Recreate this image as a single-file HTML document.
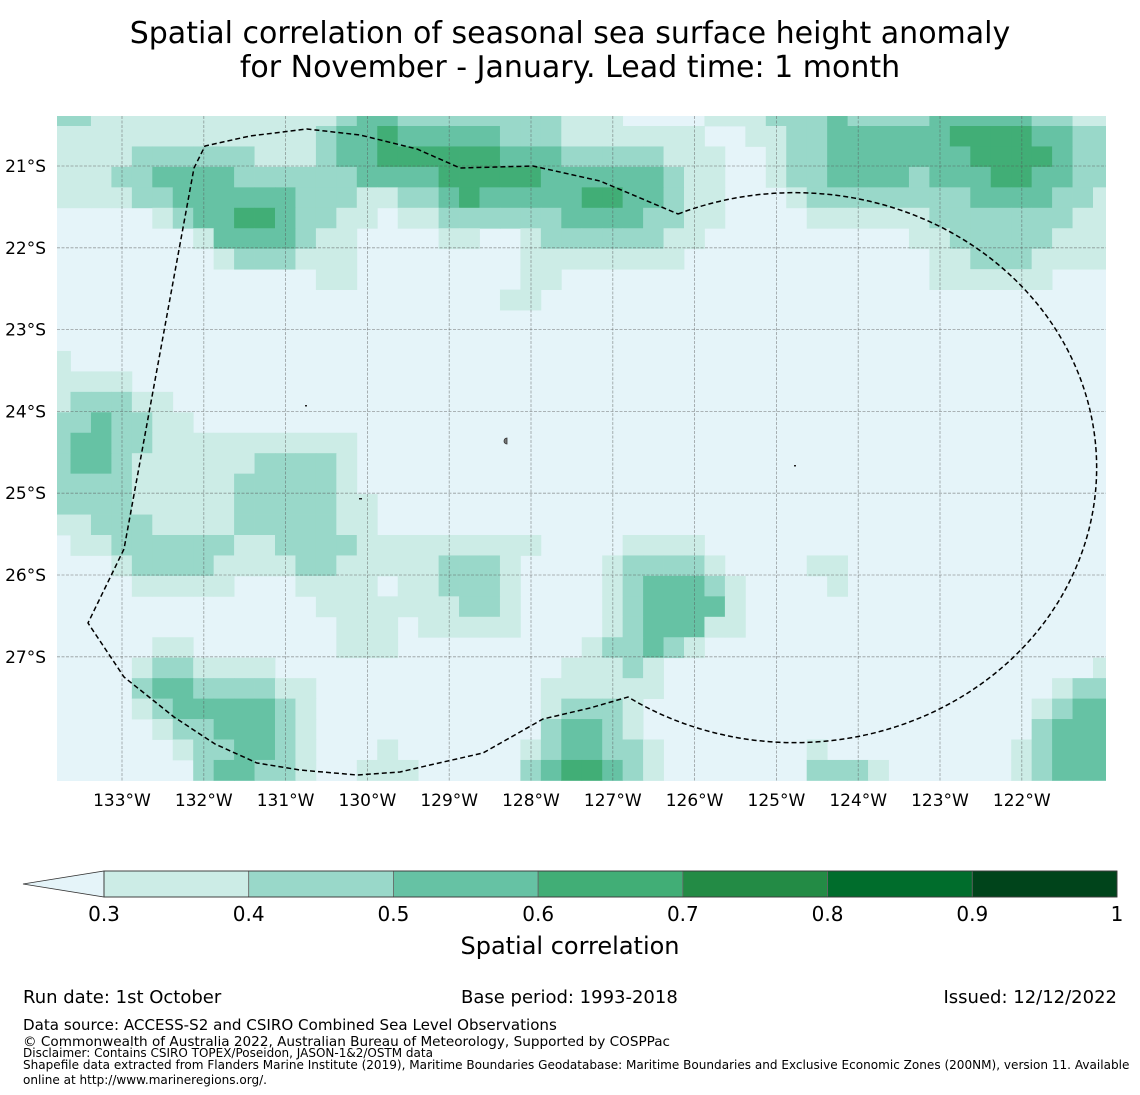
<!DOCTYPE html>
<html><head><meta charset="utf-8"><title>Spatial correlation SSH anomaly</title>
<style>
html,body{margin:0;padding:0;background:#fff;}
svg{display:block;font-family:"DejaVu Sans","Liberation Sans",sans-serif;}
</style></head>
<body>
<svg id="chart" width="1140" height="1095" viewBox="0 0 1140 1095" xmlns="http://www.w3.org/2000/svg">
  <defs><clipPath id="mapclip"><rect x="57" y="116" width="1049" height="665"/></clipPath></defs>
  <text x="570" y="43" font-size="30" text-anchor="middle">Spatial correlation of seasonal sea surface height anomaly</text>
  <text x="570" y="77" font-size="30" text-anchor="middle">for November - January. Lead time: 1 month</text>
  <rect x="57" y="116" width="1049" height="665" fill="#e5f4f9"/>
  <g id="cells" clip-path="url(#mapclip)"></g>
  <g id="grid" clip-path="url(#mapclip)"></g>
  <g id="islands">
    <path d="M507,438 A3,3 0 0 0 507,444 Z" fill="#777" stroke="#333" stroke-width="0.8"/>
    <rect x="305" y="405" width="2" height="1.5" fill="#222"/>
    <rect x="359" y="498" width="3" height="1.5" fill="#222"/>
    <rect x="794" y="465" width="2" height="1.5" fill="#222"/>
  </g>
  <path id="eez" fill="none" stroke="#000" stroke-width="1.5" stroke-dasharray="5,3"
    d="M678,214 A302,275 0 1 1 628,697 L590,708 L543,719 L483,753 L430,765 L400,772 L357,775 L300,770 L257,763 L215,744 L174,717 L124,677 L88,623 L124,549 L194,168 L205,146 L250,136 L307,129 L360,135 L417,149 L460,168 L533,166 L600,181 L678,214"
   />
  <g id="axes"></g>
  <g id="colorbar"></g>
  <text x="570" y="954" font-size="24" text-anchor="middle">Spatial correlation</text>
  <text x="23" y="1003" font-size="18">Run date: 1st October</text>
  <text x="461" y="1003" font-size="18">Base period: 1993-2018</text>
  <text x="1117" y="1003" font-size="18" text-anchor="end">Issued: 12/12/2022</text>
  <text x="23" y="1030" font-size="15.1">Data source: ACCESS-S2 and CSIRO Combined Sea Level Observations</text>
  <text x="23" y="1046" font-size="13.6">© Commonwealth of Australia 2022, Australian Bureau of Meteorology, Supported by COSPPac</text>
  <text x="23" y="1057" font-size="12">Disclaimer: Contains CSIRO TOPEX/Poseidon, JASON-1&amp;2/OSTM data</text>
  <text x="23" y="1069" font-size="12.05">Shapefile data extracted from Flanders Marine Institute (2019), Maritime Boundaries Geodatabase: Maritime Boundaries and Exclusive Economic Zones (200NM), version 11. Available</text>
  <text x="23" y="1084" font-size="12.05">online at http://www.marineregions.org/.</text>
</svg>
<script>
// Correlation class codes per row (north to south), per column (west to east); each digit = class bin
const rowCodes = [
"22 111111111111 2 33 22222222 111 0000 111 222 3 2222 33333 22 11",
"1111111111111 2 33 4 33333 222 1111111 00 11 22 333333 4444 33 22",
"1111 222222 111 2 33 4 44444 333 22222 111 00 1 22 3333333 4444 3 22",
"111 22 3333 222222 3333 44444 333333 2 11 00 1 22 3333 2 333 44 33 22",
"1111 22 333333 222 11 22 3 4 33333 44 33 2 11 000 1 22222222 3333 22 1",
"00000 1 2 33 44 3 22 11 0 11 222222 3333 22 11 0000 111111 2222222 11",
"0000000 1 3333 2 11 0000 11 00 1 222222 11 0000000000 11 22222 111",
"00000000 1 222 111 00000000 11111111 000000000000 11 222 1111",
"0000000000000 11 00000000 11 000000000000000000 111111 000",
"0000000000000000000000 11",
"0",
"0",
"1",
"1111",
"1 222 11",
"22 3 22 11",
"2 33 22 1111111111",
"2 33 2 111111 2222 1",
"2222 11111 22222 1",
"2222 11111 22222 11",
"11 222 1111 22222 11",
"0 11 222222 11 2222 111 111111 0000 1111",
"000 1 2222 1111 22 1111 1 222 1 0000 1 2222 1 0000 11",
"0000 11111 000 1111 0 1 1 222 1 0000 1 2 333 2 1 0000 1",
"0000000000000 11111 11 22 1 0000 1 2 3333 1",
"00000000000000 111 0 11111 0000 1 2 333 11",
"00000 11 0000000 111 0 00000000 1 22 3 2 1",
"0000 1 22 1111 0000000 0000000 111 2 1 000000000000000000000 1",
"0000 2 33 2222 11 00000 000000 111111 0000000000000000000 1 22",
"0000 1 2 33333 2 1 00000 000000 1 222 1 0000000000000000000 1 2 33",
"00000 1 22 333 2 1 00000 000000 2 33 2 1 0000000000000000000 2 333",
"000000 1 22 33 2 1 000 1 0 00000 1 2 33 22 1 0000000 1 000000000 1 2 333",
"0000000 2 33 22 1 00 111 00000 2 3 44 3 2 1 0000000 222 1 000000 1 2 333"
];
const classValues = [0.2, 0.35, 0.45, 0.55, 0.65, 0.75, 0.85, 0.95];
const cbBounds = [0.3, 0.4, 0.5, 0.6, 0.7, 0.8, 0.9, 1.0];
const cbColors = ["#ccece6","#99d8c9","#66c2a4","#41ae76","#238b45","#006d2c","#00441b"];
const lowColor = "#e5f4f9";
const lonTicks = [-133,-132,-131,-130,-129,-128,-127,-126,-125,-124,-123,-122];
const latTicks = [-21,-22,-23,-24,-25,-26,-27];
const cbTickLabels = ["0.3","0.4","0.5","0.6","0.7","0.8","0.9","1"];
const NCOLS = 52;
const corr = rowCodes.map(s => {
  const d = s.replace(/ /g, "");
  const out = [];
  for (let i = 0; i < NCOLS; i++) out.push(classValues[+(d[i] || "0")]);
  return out;
});

const NS = "http://www.w3.org/2000/svg";
const X0 = 57, X1 = 1106, Y0 = 116, Y1 = 781, DEG = 81.8;
const xScale = lon => 122 + (lon + 133) * DEG;
const yScale = lat => 166 + (-21 - lat) * DEG;
const cellLon0 = -133 - (122 - 70.5) / DEG - 0.25;
const cellLat0 = -21 + (166 - 126) / DEG + 0.25;
function colorFor(v) {
  if (v < cbBounds[0]) return lowColor;
  for (let i = 0; i < cbColors.length; i++) if (v < cbBounds[i + 1]) return cbColors[i];
  return cbColors[cbColors.length - 1];
}
function mk(tag, attrs, parent) {
  const e = document.createElementNS(NS, tag);
  for (const k in attrs) e.setAttribute(k, attrs[k]);
  parent.appendChild(e);
  return e;
}
const cellsG = document.getElementById("cells");
corr.forEach((row, r) => {
  row.forEach((v, c) => {
    if (v < cbBounds[0]) return;
    const xa = xScale(cellLon0 + c * 0.25), xb = xScale(cellLon0 + (c + 1) * 0.25);
    const ya = yScale(cellLat0 - r * 0.25), yb = yScale(cellLat0 - (r + 1) * 0.25);
    const rect = mk("rect", {x: xa.toFixed(2), y: ya.toFixed(2), width: (xb - xa + 0.4).toFixed(2), height: (yb - ya + 0.4).toFixed(2), fill: colorFor(v)}, cellsG);
    
    
  });
});
const gridG = document.getElementById("grid");
const axesG = document.getElementById("axes");
lonTicks.forEach(lon => {
  const x = xScale(lon);
  const l = mk("line", {x1: x, y1: Y0, x2: x, y2: Y1, stroke: "#555", "stroke-opacity": "0.55", "stroke-width": "0.8", "stroke-dasharray": "3,1.5"}, gridG);
  
  
  const t = mk("text", {x: x, y: 806, "font-size": "17", "text-anchor": "middle"}, axesG);
  t.textContent = Math.abs(lon) + "°W";
  
  
});
latTicks.forEach(lat => {
  const y = yScale(lat);
  const l = mk("line", {x1: X0, y1: y, x2: X1, y2: y, stroke: "#555", "stroke-opacity": "0.55", "stroke-width": "0.8", "stroke-dasharray": "3,1.5"}, gridG);
  
  
  const t = mk("text", {x: 46, y: y + 6, "font-size": "17", "text-anchor": "end"}, axesG);
  t.textContent = Math.abs(lat) + "°S";
  
  
});
const cbG = document.getElementById("colorbar");
const CB0 = 104, CB1 = 1117, CBY = 871, CBH = 26;
const cbX = v => CB0 + (v - cbBounds[0]) / (cbBounds[cbBounds.length - 1] - cbBounds[0]) * (CB1 - CB0);
const tri = mk("polygon", {points: `23,${CBY + CBH / 2} ${CB0},${CBY} ${CB0},${CBY + CBH}`, fill: lowColor, stroke: "#333", "stroke-width": "0.8"}, cbG);


cbColors.forEach((col, i) => {
  const xa = cbX(cbBounds[i]), xb = cbX(cbBounds[i + 1]);
  const r = mk("rect", {x: xa, y: CBY, width: xb - xa, height: CBH, fill: col, stroke: "#666", "stroke-width": "0.8"}, cbG);
  
  
});
const frame = mk("rect", {x: CB0, y: CBY, width: CB1 - CB0, height: CBH, fill: "none", stroke: "#333", "stroke-width": "0.8"}, cbG);


cbBounds.forEach((v, i) => {
  const t = mk("text", {x: cbX(v), y: 921, "font-size": "20", "text-anchor": "middle"}, cbG);
  t.textContent = cbTickLabels[i];
  
  
});
</script>
</body></html>
